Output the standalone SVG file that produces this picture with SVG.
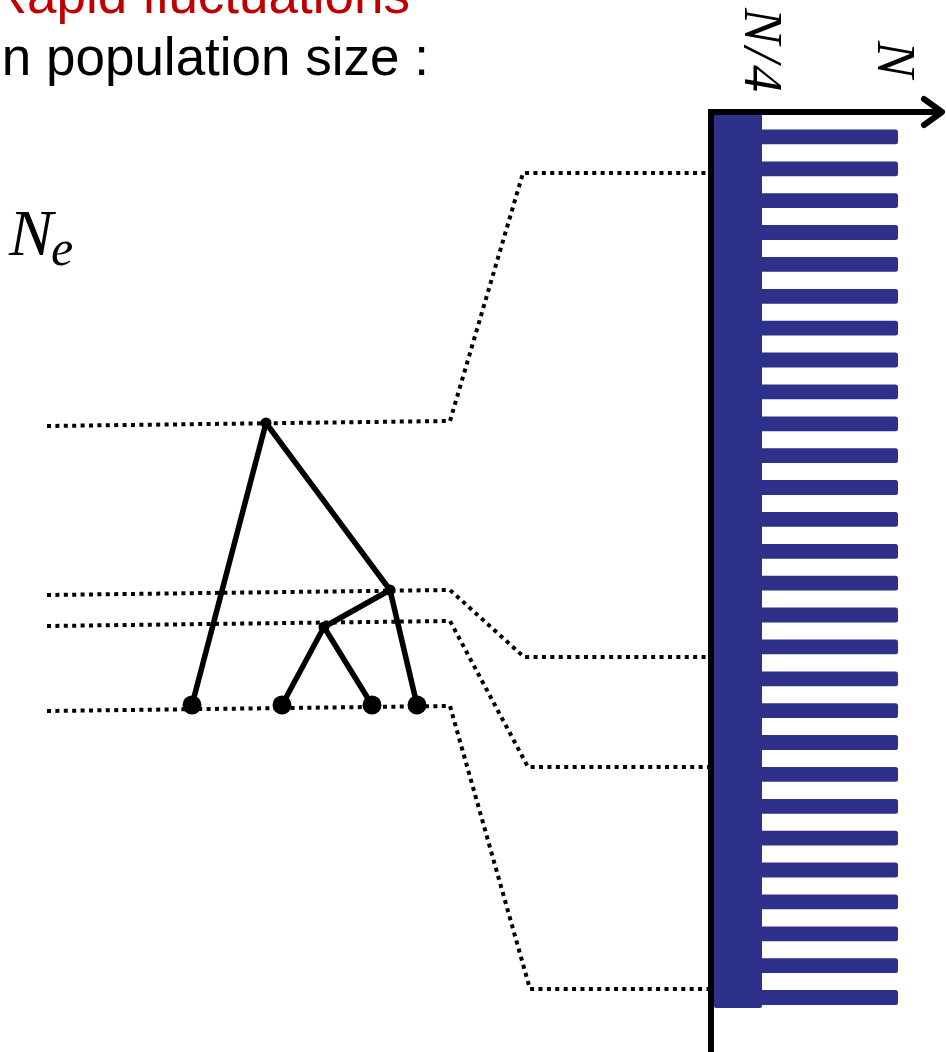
<svg xmlns="http://www.w3.org/2000/svg" width="946" height="1052" viewBox="0 0 946 1052">
<style>
.title{font-family:"Liberation Sans",Arial,sans-serif;font-size:53px}
.math{font-family:"Liberation Serif","Times New Roman",serif;font-style:italic}
.dot{fill:none;stroke:#000;stroke-width:4;stroke-dasharray:4 4.4}
.edge{fill:none;stroke:#000;stroke-width:5.5;stroke-linecap:round}
.bar{fill:#2E3189}
.axis{fill:none;stroke:#000;stroke-width:6}
</style>
<defs>
<rect id="b" class="bar" x="758" y="0" width="140" height="14.8" rx="2.5"/>
</defs>
<g id="title">
<text class="title" x="410" y="13" text-anchor="end" fill="#C00000">Rapid fluctuations</text>
<text class="title" x="429" y="75" text-anchor="end" fill="#000">n population size :</text>
</g>
<g id="ne-label">
<text class="math" x="9" y="255" font-size="66">N</text>
<text class="math" x="51" y="265" font-size="50">e</text>
</g>
<g id="chart">
<rect class="bar" x="714" y="112" width="48" height="896" rx="2"/>
<use href="#b" y="129.5"/><use href="#b" y="161.4"/><use href="#b" y="193.3"/><use href="#b" y="225.1"/>
<use href="#b" y="257"/><use href="#b" y="288.9"/><use href="#b" y="320.8"/><use href="#b" y="352.6"/>
<use href="#b" y="384.5"/><use href="#b" y="416.4"/><use href="#b" y="448.3"/><use href="#b" y="480.1"/>
<use href="#b" y="512"/><use href="#b" y="543.9"/><use href="#b" y="575.8"/><use href="#b" y="607.6"/>
<use href="#b" y="639.5"/><use href="#b" y="671.4"/><use href="#b" y="703.3"/><use href="#b" y="735.1"/>
<use href="#b" y="767"/><use href="#b" y="798.9"/><use href="#b" y="830.8"/><use href="#b" y="862.6"/>
<use href="#b" y="894.5"/><use href="#b" y="926.4"/><use href="#b" y="958.3"/><use href="#b" y="990.1"/>
<path class="axis" d="M711 1052 V112 H942"/>
<path class="axis" d="M924 99 L942 112 L924 125" stroke-linecap="round" stroke-linejoin="round"/>
<text class="math" font-size="54" letter-spacing="3" transform="translate(745 8) rotate(90)">N/4</text>
<text class="math" font-size="55" transform="translate(878 41) rotate(90)">N</text>
</g>
<g id="connectors">
<path class="dot" d="M47 426 L450 421 L523 173 H708"/>
<path class="dot" d="M47 595 L450 590 L524 657 H708"/>
<path class="dot" d="M47 626 L450 621 L528 767 H708"/>
<path class="dot" d="M47 711 L450 706 L530 989 H708"/>
<line class="edge" x1="266" y1="423" x2="192" y2="705"/>
<line class="edge" x1="266" y1="423" x2="390" y2="590"/>
<line class="edge" x1="390" y1="590" x2="417" y2="705"/>
<line class="edge" x1="390" y1="590" x2="324" y2="627"/>
<line class="edge" x1="324" y1="627" x2="282" y2="705"/>
<line class="edge" x1="324" y1="627" x2="372" y2="705"/>
</g>
<g id="node-root"><circle cx="266" cy="423" r="5.5"/></g>
<g id="node-a"><circle cx="390" cy="590" r="5.5"/></g>
<g id="node-b"><circle cx="324" cy="627" r="5.5"/></g>
<g id="leaf-1"><circle cx="192" cy="705" r="9.5"/></g>
<g id="leaf-2"><circle cx="282" cy="705" r="9.5"/></g>
<g id="leaf-3"><circle cx="372" cy="705" r="9.5"/></g>
<g id="leaf-4"><circle cx="417" cy="705" r="9.5"/></g>
</svg>
